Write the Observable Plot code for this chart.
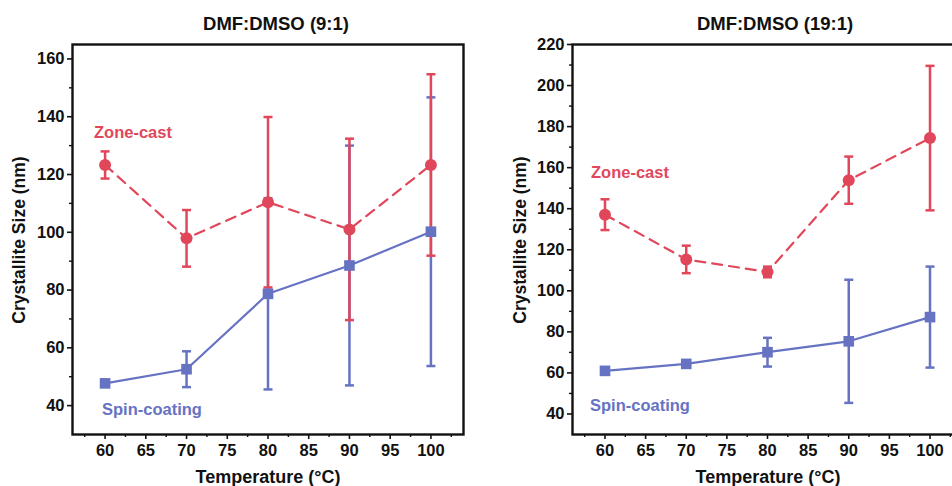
<!DOCTYPE html>
<html><head><meta charset="utf-8">
<script src="https://cdn.jsdelivr.net/npm/d3@7"></script>
<script src="https://cdn.jsdelivr.net/npm/@observablehq/plot@0.6"></script>
<style>
html,body{margin:0;padding:0;background:#fff;overflow:hidden;}
#wrap{position:relative;width:952px;height:486px;overflow:hidden;font-family:"Liberation Sans",Arial,sans-serif;font-weight:bold;color:#111;}
.abs{position:absolute;white-space:nowrap;transform:translate(-50%,-50%);}
.lab{position:absolute;white-space:nowrap;transform:translate(0,-50%);font-size:16.5px;}
.ylab{position:absolute;white-space:nowrap;transform:translate(-50%,-50%) rotate(-90deg);font-size:17.5px;}
svg{position:absolute;top:0;}
</style></head>
<body>
<div id="wrap"></div>
<script>
// ---- data ----
const temps = [60, 70, 80, 90, 100];
const xTicks = [60, 65, 70, 75, 80, 85, 90, 95, 100];
const xMinor = [57.5, 62.5, 67.5, 72.5, 77.5, 82.5, 87.5, 92.5, 97.5, 102.5];

// DMF:DMSO (9:1)
const zone91 = [123.3, 97.9, 110.4, 101.0, 123.3];
const zone91Err = [4.7, 9.8, 29.5, 31.4, 31.4];
const spin91 = [47.7, 52.6, 78.7, 88.5, 100.2];
const spin91Err = [1.0, 6.2, 33.1, 41.5, 46.5];
const yTicks91 = [40, 60, 80, 100, 120, 140, 160];
const yMinor91 = [50, 70, 90, 110, 130, 150];

// DMF:DMSO (19:1)
const zone191 = [137.1, 115.3, 109.2, 153.9, 174.4];
const zone191Err = [7.5, 6.7, 2.6, 11.5, 35.2];
const spin191 = [61.0, 64.4, 70.1, 75.4, 87.2];
const spin191Err = [1.2, 1.5, 7.0, 30.0, 24.6];
const yTicks191 = [40, 60, 80, 100, 120, 140, 160, 180, 200, 220];
const yMinor191 = [50, 70, 90, 110, 130, 150, 170, 190, 210];

const RED = "#e1475a";
const BLUE = "#6673c3";

const cap = {draw(ctx, size) { const w = Math.sqrt(size / Math.PI); ctx.moveTo(-w, 0); ctx.lineTo(w, 0); }};

function rows(v, e) { return temps.map((t, i) => ({t, v: v[i], e: e[i]})); }

function errMarks(data, color) {
  return [
    Plot.ruleX(data, {x: "t", y1: d => d.v - d.e, y2: d => d.v + d.e, stroke: color, strokeWidth: 2.5}),
    Plot.dot(data, {x: "t", y: d => d.v + d.e, symbol: cap, r: 4.5, stroke: color, strokeWidth: 2.5, fill: "none"}),
    Plot.dot(data, {x: "t", y: d => d.v - d.e, symbol: cap, r: 4.5, stroke: color, strokeWidth: 2.5, fill: "none"})
  ];
}

function panel(o) {
  const z = rows(o.zone, o.zoneErr), s = rows(o.spin, o.spinErr);
  return Plot.plot({
    width: o.width, height: 486,
    marginTop: 44, marginBottom: 52, marginLeft: o.marginLeft, marginRight: o.marginRight,
    x: {domain: [56, 104]},
    y: {domain: o.yDomain},
    style: {fontFamily: "Liberation Sans, Arial, sans-serif", fontSize: "16.5px", fontWeight: "bold", color: "#111", background: "transparent", overflow: "visible"},
    marks: [
      Plot.axisX({ticks: xTicks, tickSize: 5, tickPadding: 5, label: null, strokeWidth: 1.6, fontSize: 16.5}),
      Plot.axisX({ticks: xMinor, tickSize: 3, text: null, label: null, strokeWidth: 1.4}),
      Plot.axisY({ticks: o.yTicks, tickSize: 5, tickPadding: 3, label: null, strokeWidth: 1.6, fontSize: 16.5}),
      Plot.axisY({ticks: o.yMinor, tickSize: 3, text: null, label: null, strokeWidth: 1.4}),
      ...errMarks(s, BLUE),
      Plot.line(z, {x: "t", y: "v", stroke: RED, strokeWidth: 2.2, strokeDasharray: "10,7"}),
      ...errMarks(z, RED),
      Plot.dot(z, {x: "t", y: "v", r: 6, fill: RED, stroke: "none"}),
      Plot.line(s, {x: "t", y: "v", stroke: BLUE, strokeWidth: 2.2}),
      Plot.dot(s, {x: "t", y: "v", r: 6, symbol: "square", fill: BLUE, stroke: "none"}),
      Plot.frame({stroke: "#111", strokeWidth: 2.4})
    ]
  });
}

const wrap = document.getElementById("wrap");

const left = panel({zone: zone91, zoneErr: zone91Err, spin: spin91, spinErr: spin91Err,
  yDomain: [30, 165], yTicks: yTicks91, yMinor: yMinor91, width: 476, marginLeft: 72, marginRight: 13});
left.style.left = "0px";
wrap.appendChild(left);

const right = panel({zone: zone191, zoneErr: zone191Err, spin: spin191, spinErr: spin191Err,
  yDomain: [30, 220], yTicks: yTicks191, yMinor: yMinor191, width: 500, marginLeft: 96, marginRight: 14});
right.style.left = "476px";
wrap.appendChild(right);

function addText(cls, text, x, y, extra) {
  const d = document.createElement("div");
  d.className = cls; d.textContent = text;
  d.style.left = x + "px"; d.style.top = y + "px";
  if (extra) Object.assign(d.style, extra);
  wrap.appendChild(d);
}
addText("abs", "DMF:DMSO (9:1)", 276, 24, {fontSize: "18.5px"});
addText("abs", "DMF:DMSO (19:1)", 775, 24, {fontSize: "18.5px"});
addText("abs", "Temperature (°C)", 268, 477, {fontSize: "18px"});
addText("abs", "Temperature (°C)", 768, 477, {fontSize: "18px"});
addText("ylab", "Crystallite Size (nm)", 19, 240);
addText("ylab", "Crystallite Size (nm)", 520, 240);
addText("lab", "Zone-cast", 94, 132, {color: RED});
addText("lab", "Spin-coating", 102, 409, {color: BLUE});
addText("lab", "Zone-cast", 591, 172, {color: RED});
addText("lab", "Spin-coating", 590, 405, {color: BLUE});
</script>
</body></html>
